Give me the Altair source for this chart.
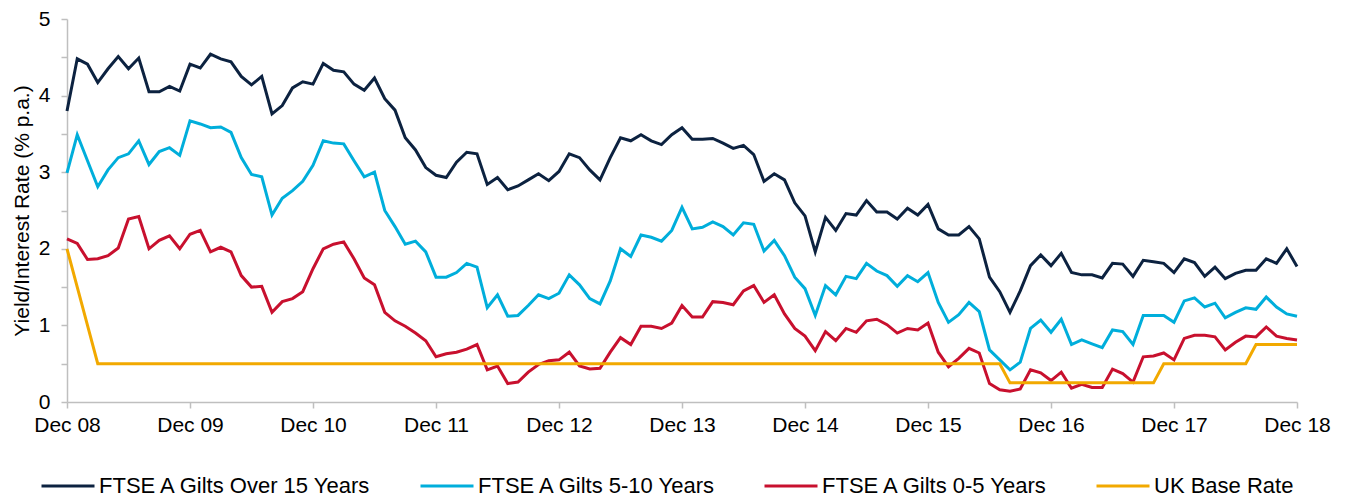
import altair as alt
import pandas as pd

# Monthly positions: 0 = Dec 08 ... 120 = Dec 18
month_idx = list(range(121))
tick_positions = [0, 12, 24, 36, 48, 60, 72, 84, 96, 108, 120]
tick_labels = ["Dec 08", "Dec 09", "Dec 10", "Dec 11", "Dec 12", "Dec 13",
               "Dec 14", "Dec 15", "Dec 16", "Dec 17", "Dec 18"]
y_ticks = [0, 0.5, 1, 1.5, 2, 2.5, 3, 3.5, 4, 4.5, 5]

series_names = ["FTSE A Gilts Over 15 Years", "FTSE A Gilts 5-10 Years",
                "FTSE A Gilts 0-5 Years", "UK Base Rate"]
colors = ["#0c2240", "#00aedb", "#c8102e", "#f2a900"]

over15 = [3.80, 4.48, 4.41, 4.17, 4.35, 4.51, 4.35, 4.49, 4.05, 4.05, 4.12, 4.06,
          4.41, 4.36, 4.54, 4.48, 4.44, 4.25, 4.14, 4.25, 3.76, 3.87, 4.10, 4.18,
          4.15, 4.42, 4.33, 4.31, 4.15, 4.07, 4.23, 3.96, 3.81, 3.45, 3.29, 3.06,
          2.96, 2.93, 3.13, 3.26, 3.24, 2.84, 2.93, 2.77, 2.82, 2.90, 2.98, 2.89,
          3.01, 3.24, 3.19, 3.03, 2.90, 3.19, 3.45, 3.41, 3.49, 3.41, 3.36, 3.49,
          3.58, 3.43, 3.43, 3.44, 3.38, 3.31, 3.35, 3.23, 2.88, 2.98, 2.90, 2.60,
          2.43, 1.96, 2.41, 2.24, 2.46, 2.44, 2.63, 2.48, 2.48, 2.39, 2.53, 2.44,
          2.58, 2.26, 2.18, 2.18, 2.29, 2.13, 1.63, 1.44, 1.17, 1.45, 1.78, 1.92,
          1.78, 1.94, 1.69, 1.66, 1.66, 1.62, 1.81, 1.80, 1.64, 1.85, 1.83, 1.81,
          1.69, 1.87, 1.82, 1.64, 1.76, 1.61, 1.68, 1.72, 1.72, 1.87, 1.81, 2.00,
          1.77]

g5_10 = [2.99, 3.49, 3.15, 2.81, 3.03, 3.19, 3.24, 3.41, 3.10, 3.27, 3.32, 3.22,
         3.67, 3.63, 3.58, 3.59, 3.52, 3.19, 2.97, 2.94, 2.44, 2.66, 2.76, 2.88,
         3.09, 3.41, 3.38, 3.37, 3.15, 2.94, 3.00, 2.50, 2.29, 2.06, 2.10, 1.96,
         1.63, 1.63, 1.69, 1.81, 1.76, 1.23, 1.40, 1.12, 1.13, 1.26, 1.40, 1.35,
         1.42, 1.66, 1.53, 1.35, 1.28, 1.58, 2.00, 1.90, 2.18, 2.15, 2.10, 2.24,
         2.54, 2.26, 2.28, 2.35, 2.29, 2.18, 2.34, 2.32, 1.97, 2.11, 1.91, 1.63,
         1.48, 1.13, 1.52, 1.40, 1.64, 1.61, 1.81, 1.71, 1.65, 1.51, 1.65, 1.57,
         1.69, 1.30, 1.04, 1.14, 1.30, 1.18, 0.68, 0.55, 0.42, 0.52, 0.96, 1.07,
         0.91, 1.08, 0.75, 0.81, 0.76, 0.71, 0.94, 0.92, 0.75, 1.13, 1.13, 1.13,
         1.04, 1.32, 1.36, 1.24, 1.29, 1.10, 1.17, 1.23, 1.21, 1.37, 1.24, 1.15,
         1.12]

g0_5 = [2.13, 2.07, 1.86, 1.87, 1.91, 2.01, 2.39, 2.42, 2.00, 2.11, 2.17, 2.00,
        2.19, 2.24, 1.96, 2.02, 1.96, 1.65, 1.50, 1.51, 1.17, 1.31, 1.35, 1.44,
        1.74, 2.00, 2.06, 2.09, 1.87, 1.62, 1.53, 1.17, 1.06, 0.99, 0.90, 0.80,
        0.59, 0.63, 0.65, 0.69, 0.75, 0.42, 0.47, 0.24, 0.26, 0.39, 0.49, 0.54,
        0.55, 0.65, 0.47, 0.43, 0.44, 0.65, 0.84, 0.75, 0.99, 0.99, 0.96, 1.03,
        1.26, 1.11, 1.11, 1.31, 1.30, 1.27, 1.45, 1.52, 1.30, 1.40, 1.15, 0.96,
        0.86, 0.67, 0.92, 0.80, 0.96, 0.91, 1.06, 1.08, 1.01, 0.90, 0.96, 0.94,
        1.03, 0.65, 0.46, 0.57, 0.70, 0.64, 0.24, 0.16, 0.14, 0.17, 0.42, 0.38,
        0.28, 0.39, 0.18, 0.23, 0.19, 0.19, 0.43, 0.37, 0.26, 0.59, 0.60, 0.64,
        0.55, 0.83, 0.87, 0.87, 0.85, 0.68, 0.78, 0.86, 0.85, 0.98, 0.86, 0.83,
        0.81]

base_rate = [2.00, 1.50, 1.00, 0.50, 0.50, 0.50, 0.50, 0.50, 0.50, 0.50, 0.50, 0.50,
             0.50, 0.50, 0.50, 0.50, 0.50, 0.50, 0.50, 0.50, 0.50, 0.50, 0.50, 0.50,
             0.50, 0.50, 0.50, 0.50, 0.50, 0.50, 0.50, 0.50, 0.50, 0.50, 0.50, 0.50,
             0.50, 0.50, 0.50, 0.50, 0.50, 0.50, 0.50, 0.50, 0.50, 0.50, 0.50, 0.50,
             0.50, 0.50, 0.50, 0.50, 0.50, 0.50, 0.50, 0.50, 0.50, 0.50, 0.50, 0.50,
             0.50, 0.50, 0.50, 0.50, 0.50, 0.50, 0.50, 0.50, 0.50, 0.50, 0.50, 0.50,
             0.50, 0.50, 0.50, 0.50, 0.50, 0.50, 0.50, 0.50, 0.50, 0.50, 0.50, 0.50,
             0.50, 0.50, 0.50, 0.50, 0.50, 0.50, 0.50, 0.50, 0.25, 0.25, 0.25, 0.25,
             0.25, 0.25, 0.25, 0.25, 0.25, 0.25, 0.25, 0.25, 0.25, 0.25, 0.25, 0.50,
             0.50, 0.50, 0.50, 0.50, 0.50, 0.50, 0.50, 0.50, 0.75, 0.75, 0.75, 0.75,
             0.75]

rows = []
for name, vals in zip(series_names, [over15, g5_10, g0_5, base_rate]):
    for m, v in zip(month_idx, vals):
        rows.append({"month": m, "value": v, "series": name})
df = pd.DataFrame(rows)

FONT = "Liberation Sans"
AXIS_GREY = "#bfbfbf"

x_label_expr = "[" + ",".join("'" + t + "'" for t in tick_labels) + "][round(datum.value / 12)]"

chart = alt.Chart(df).mark_line(strokeWidth=3).encode(
    x=alt.X("month:Q",
            scale=alt.Scale(domain=[0, 120], nice=False, zero=False),
            axis=alt.Axis(values=tick_positions, labelExpr=x_label_expr, title=None,
                          grid=False, tickSize=6, labelPadding=6,
                          labelFontSize=21, labelFont=FONT, labelColor="#000000",
                          labelFlush=False, labelOverlap=False)),
    y=alt.Y("value:Q",
            scale=alt.Scale(domain=[0, 5], nice=False),
            axis=alt.Axis(values=y_ticks,
                          labelExpr="datum.value % 1 == 0 ? format(datum.value, 'd') : ''",
                          title="Yield/Interest Rate (% p.a.)",
                          titleFontSize=21, titleFont=FONT, titleFontWeight="normal",
                          titleColor="#000000", titlePadding=6,
                          grid=False, tickSize=6, labelPadding=11,
                          labelFontSize=21, labelFont=FONT, labelColor="#000000",
                          labelFlush=False, labelOverlap=False)),
    color=alt.Color("series:N",
                    scale=alt.Scale(domain=series_names, range=colors),
                    legend=alt.Legend(title=None, orient="none", legendX=-27, legendY=439,
                                      direction="horizontal", columns=4, columnPadding=41,
                                      symbolType="stroke", symbolSize=2809,
                                      symbolStrokeWidth=3, labelOffset=3,
                                      labelFontSize=22, labelFont=FONT, labelLimit=0,
                                      labelColor="#000000", padding=0)),
).properties(
    width=1230, height=383,
    autosize=alt.AutoSizeParams(type="none"),
    padding={"left": 59, "top": 11, "right": 44, "bottom": 100},
).configure_view(
    stroke=None
).configure_axis(
    domainColor=AXIS_GREY, tickColor=AXIS_GREY, domainWidth=1.5, tickWidth=1.5
)

chart.save("out.html", embed_options={"renderer": "svg", "actions": False})
